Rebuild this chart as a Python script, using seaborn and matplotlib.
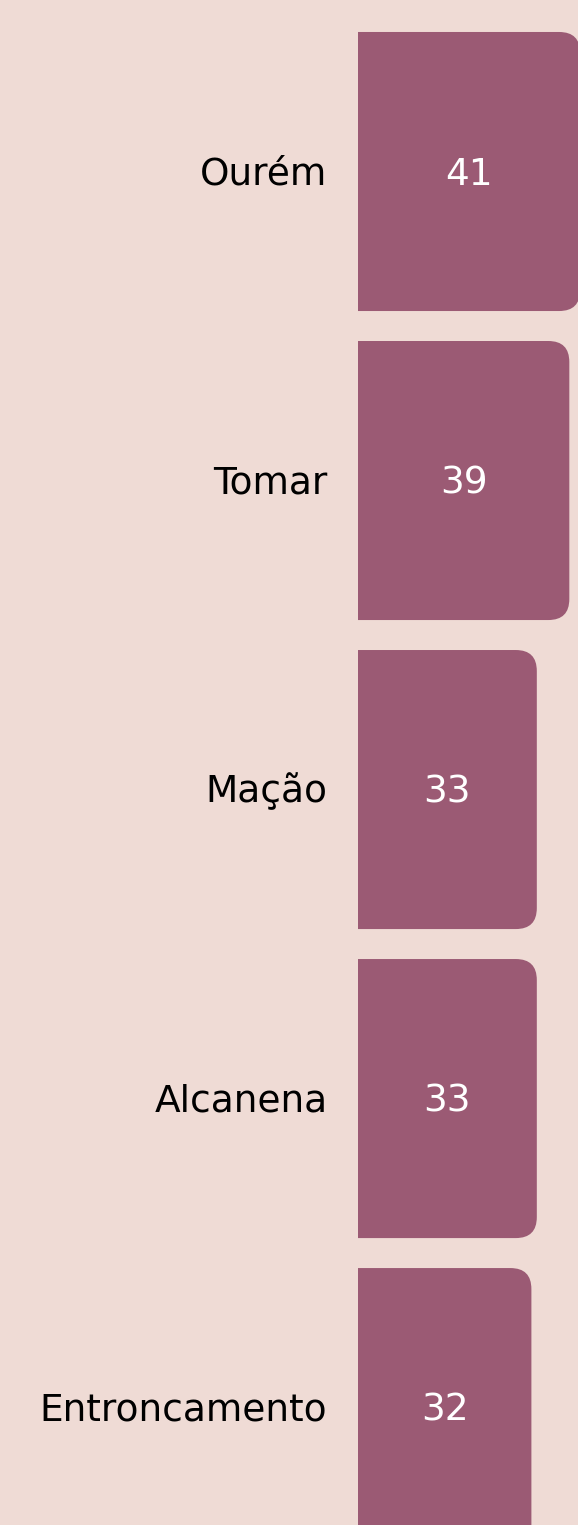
import matplotlib
matplotlib.use("Agg")
import matplotlib.pyplot as plt
from matplotlib.patches import FancyBboxPatch
from matplotlib.transforms import ScaledTranslation
import seaborn as sns
import pandas as pd

municipios = ["Ourém", "Tomar", "Mação", "Alcanena", "Entroncamento"]
valores = [41, 39, 33, 33, 32]

fundo = "#efdbd5"
cor_barra = "#9b5a74"

sns.set_theme(style="white")
plt.rcParams["font.family"] = ["DejaVu Sans"]

df = pd.DataFrame({"municipio": municipios, "valor": valores})

fig = plt.figure(figsize=(5.78, 15.25), dpi=100, facecolor=fundo)
ax = fig.add_axes([358 / 578, 0, 220 / 578, 1])
ax.set_facecolor(fundo)

sns.barplot(data=df, x="valor", y="municipio", orient="h", color=cor_barra,
            saturation=1, width=0.903, ax=ax)

ax.set_xlim(0, 40.6)
ax.set_ylim(4.380, -0.555)

# pixels per data unit, used to keep the corners circular
px_x = 220 / 40.6
px_y = 1525 / (4.380 + 0.555)
raio_px = 21
r = raio_px / px_x
aspecto = (raio_px / px_y) / r

for barra in list(ax.patches):
    x0, y0, w, h = barra.get_x(), barra.get_y(), barra.get_width(), barra.get_height()
    barra.set_visible(False)
    novo = FancyBboxPatch((x0 - 10, y0), w + 10, h,
                          boxstyle=f"round,pad=0,rounding_size={r}",
                          mutation_aspect=aspecto, facecolor=cor_barra,
                          edgecolor="none")
    ax.add_patch(novo)
    # baseline sits ~13px below the bar centre
    ax.text(x0 + w / 2, y0 + h / 2 + 13 / px_y, f"{int(w)}", color="white",
            fontsize=27, ha="center", va="baseline")

for lado in ax.spines.values():
    lado.set_visible(False)
ax.set_xticks([])
ax.set_xlabel("")
ax.set_ylabel("")
ax.tick_params(axis="y", length=0, pad=22, labelsize=27, labelcolor="black")
desloc = ScaledTranslation(0, -13 / 100, fig.dpi_scale_trans)
for rotulo in ax.get_yticklabels():
    rotulo.set_va("baseline")
    rotulo.set_transform(rotulo.get_transform() + desloc)

fig.savefig("out.png", dpi=100, facecolor=fundo)
